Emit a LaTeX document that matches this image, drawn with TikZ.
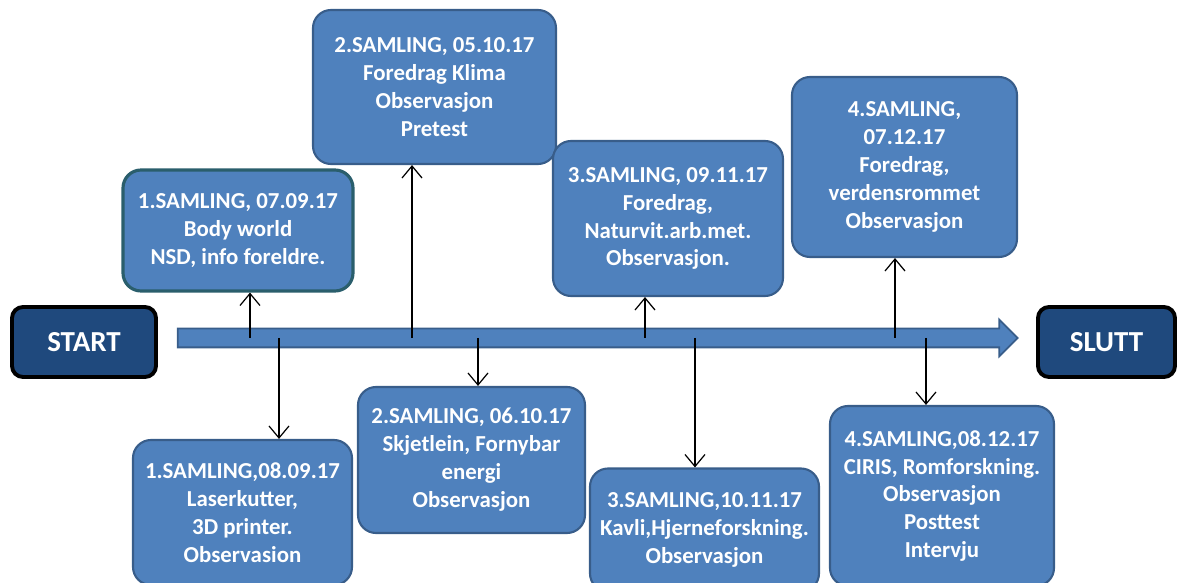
\documentclass[tikz,border=0pt]{standalone}
\usepackage{fontspec}
\setmainfont{Carlito}
\usetikzlibrary{positioning, arrows.meta, shapes.arrows}
\definecolor{boxblue}{HTML}{4F81BD}
\definecolor{boxedge}{HTML}{385D8A}
\definecolor{tealedge}{HTML}{2A5E6C}
\definecolor{navy}{HTML}{1F497D}
\tikzset{
  samling/.style  = {rectangle, rounded corners=0.36cm, draw=boxedge, line width=1.2pt, fill=boxblue,
                     align=center, text=white, inner sep=0pt,
                     font=\fontsize{13}{15.9}\selectfont\bfseries},
  endbox/.style   = {rectangle, rounded corners=0.22cm, draw=black, line width=2.2pt, fill=navy,
                     text=white, font=\fontsize{16.5}{19}\selectfont\bfseries, minimum height=1.40cm},
  timeline/.style = {single arrow, draw=boxedge, line width=1pt, fill=boxblue,
                     inner xsep=0pt, inner ysep=0.17cm, minimum height=16.80cm,
                     minimum width=0.72cm, single arrow head extend=0.18cm},
  link/.style     = {line width=0.7pt, -{Straight Barb[length=2.4mm, width=4mm]}},
}

\begin{document}
\begin{tikzpicture}
\useasboundingbox (0,0) rectangle (23.54,11.66);

% =============== START / SLUTT ===============
\node (start) [endbox, minimum width=2.88cm] at (1.68,4.82) {START};
\node (slutt) [endbox, minimum width=2.74cm] at (22.13,4.82) {SLUTT};

% =============== TOP ROW ===============
\node (t1) [samling, draw=tealedge, line width=1.8pt, minimum width=4.60cm, minimum height=2.42cm] at (4.76,7.05)
  {1.SAMLING, 07.09.17\\Body world\\NSD, info foreldre.};
\node (t2) [samling, minimum width=4.86cm, minimum height=3.08cm] at (8.69,9.92)
  {2.SAMLING, 05.10.17\\Foredrag Klima\\Observasjon\\Pretest};
\node (t3) [samling, minimum width=4.60cm, minimum height=3.10cm] at (13.36,7.29)
  {3.SAMLING, 09.11.17\\Foredrag,\\Naturvit.arb.met.\\Observasjon.};
\node (t4) [samling, minimum width=4.50cm, minimum height=3.60cm] at (18.09,8.32)
  {4.SAMLING,\\07.12.17\\Foredrag,\\verdensrommet\\Observasjon};

% =============== BOTTOM ROW ===============
\node (b1) [samling, minimum width=4.38cm, minimum height=2.90cm] at (4.85,1.41)
  {1.SAMLING,08.09.17\\Laserkutter,\\3D printer.\\Observasion};
\node (b2) [samling, minimum width=4.54cm, minimum height=2.92cm] at (9.43,2.46)
  {2.SAMLING, 06.10.17\\Skjetlein, Fornybar\\energi\\Observasjon};
\node (b3) [samling, minimum width=4.58cm, minimum height=2.46cm] at (14.09,1.06)
  {3.SAMLING,10.11.17\\Kavli,Hjerneforskning.\\Observasjon};
\node (b4) [samling, minimum width=4.48cm, minimum height=3.60cm] at (18.84,1.74)
  {4.SAMLING,08.12.17\\CIRIS, Romforskning.\\Observasjon\\Posttest\\Intervju};

% =============== TIMELINE ===============
\node (line) [timeline] at (11.86,4.90) {};

% points on the timeline
\coordinate (u1) at (5.00,4.90);
\coordinate (u2) at (8.24,4.90);
\coordinate (u3) at (12.90,4.90);
\coordinate (u4) at (17.90,4.90);
\coordinate (d1) at (5.58,4.90);
\coordinate (d2) at (9.56,4.90);
\coordinate (d3) at (13.90,4.90);
\coordinate (d4) at (18.52,4.90);

% timeline -> sessions
\draw[link] (u1) -- (u1 |- t1.south);
\draw[link] (u2) -- (u2 |- t2.south);
\draw[link] (u3) -- (u3 |- t3.south);
\draw[link] (u4) -- (u4 |- t4.south);
\draw[link] (d1) -- (d1 |- b1.north);
\draw[link] (d2) -- (d2 |- b2.north);
\draw[link] (d3) -- (d3 |- b3.north);
\draw[link] (d4) -- (d4 |- b4.north);

\end{tikzpicture}
\end{document}
